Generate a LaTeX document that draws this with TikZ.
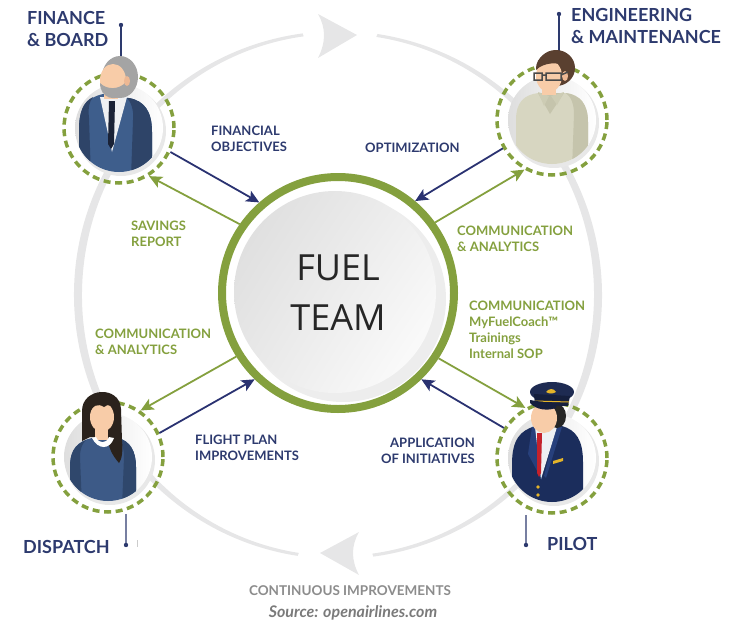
\documentclass[tikz,border=0pt]{standalone}
\usepackage{fontspec}
\setmainfont{Lato}
\newfontfamily\teamfont{Open Sans}
\usetikzlibrary{arrows.meta,shadings}

\definecolor{navy}{HTML}{2D3A6E}
\definecolor{arrownavy}{HTML}{2A3271}
\definecolor{leaf}{HTML}{84A03E}
\definecolor{ringgray}{HTML}{E6E6E7}
\definecolor{skin}{HTML}{F8CCA8}
\definecolor{skinshade}{HTML}{EDB894}
\definecolor{suit}{HTML}{3E5E8C}
\definecolor{suitdark}{HTML}{2E4468}
\definecolor{shirt}{HTML}{EEF0F3}
\definecolor{tie}{HTML}{1A2236}
\definecolor{hairgray}{HTML}{A4A4A4}
\definecolor{sweater}{HTML}{D7D6C1}
\definecolor{sweaterdark}{HTML}{C5C4AC}
\definecolor{collar}{HTML}{CDCCB4}
\definecolor{brownhair}{HTML}{5A4030}
\definecolor{glassframe}{HTML}{4A4A4A}
\definecolor{darkhair}{HTML}{2A221C}
\definecolor{blouse}{HTML}{3D5A87}
\definecolor{blousedark}{HTML}{2F476C}
\definecolor{pilotcoat}{HTML}{1B2D5C}
\definecolor{lapel}{HTML}{27407C}
\definecolor{capnavy}{HTML}{1E2B52}
\definecolor{capband}{HTML}{151F3D}
\definecolor{gold}{HTML}{E4B429}
\definecolor{tiered}{HTML}{C4212B}

\tikzstyle{member}=[circle,draw=leaf,line width=3.5pt,dash pattern=on 7pt off 4.6pt,minimum size=110pt,inner sep=0pt]
\tikzstyle{hub}=[circle,draw=leaf,line width=8pt,minimum size=232pt,inner sep=0pt,align=center,text=black!85,font=\teamfont\fontsize{36}{50}\selectfont]
\tikzstyle{role}=[inner sep=0pt,align=left,text=navy,font=\fontsize{18}{22}\selectfont\bfseries]
\tikzstyle{flow}=[inner sep=0pt,align=left,font=\fontsize{13}{16}\selectfont\bfseries]
\tikzstyle{tonavy}=[draw=arrownavy,line width=1.8pt,-{Stealth[length=13pt,width=12pt,inset=3pt]}]
\tikzstyle{toleaf}=[draw=leaf,line width=1.8pt,-{Stealth[length=13pt,width=12pt,inset=3pt]}]

\begin{document}
\begin{tikzpicture}[x=1pt,y=-1pt]
  \useasboundingbox (0,0) rectangle (747,621);

  % continuous improvement loop
  \coordinate (ring) at (338,295);
  \fill[ringgray] (ring) ++(97.7:264pt) arc[start angle=97.7,end angle=261.2,radius=264pt]
    -- ([shift={(261.2:256pt and 261pt)}]ring) arc[start angle=261.2,end angle=97.7,x radius=256pt,y radius=261pt] -- cycle;
  \fill[ringgray] (ring) ++(277.7:264pt) arc[start angle=277.7,end angle=441.4,radius=264pt]
    -- ([shift={(441.4:256pt and 261pt)}]ring) arc[start angle=441.4,end angle=277.7,x radius=256pt,y radius=261pt] -- cycle;
  \fill[ringgray] (357,35) -- (318,14) .. controls (326,28) and (326,42) .. (318,58) -- cycle;
  \fill[ringgray] (320,553) -- (359,532) .. controls (351,546) and (351,560) .. (359,575) -- cycle;

  % fuel team disc
  \fill[black!7] (343,299) circle (103pt);
  \shade[upper left=black!14,upper right=black!6,lower left=black!9,lower right=white] (335,292) circle (101pt);
  \node (fuel) [hub] at (338,293) {FUEL\\TEAM};

  \node (finance) [member] at (119,128) {};
  \node (engineering) [member] at (552,120) {};
  \node (dispatch) [member] at (108,457) {};
  \node (pilot) [member] at (552,458) {};

  \foreach \p in {finance,engineering,dispatch,pilot} {
    \fill[black!9] ([shift={(2,3)}]\p.center) circle (45pt);
    \shade[left color=black!13,right color=white] (\p.center) circle (44pt);
  }

  % leader lines to the titles
  \coordinate (finance tip) at (121,25);
  \coordinate (engineering tip) at (559,14);
  \coordinate (dispatch tip) at (126,545);
  \coordinate (pilot tip) at (526,545);
  \draw[navy,line width=1.2pt] (finance tip) -- (finance tip |- finance.north);
  \draw[navy,line width=1.2pt] (engineering tip) -- (engineering tip |- engineering.north);
  \draw[navy!65,line width=1.2pt] (dispatch tip |- dispatch.south) -- (dispatch tip);
  \draw[navy!65,line width=1.2pt] (pilot tip |- pilot.south) -- (pilot tip);
  \foreach \t in {finance tip,engineering tip,dispatch tip,pilot tip}
    \fill[navy] (\t) circle (2.2pt);
  \draw[black!20,line width=0.8pt] (137,540) -- (137,547);

  % finance & board
  \begin{scope}[shift={(finance.center)}]
    \begin{scope}
      \clip (0,0) circle (44pt);
      \fill[suit] (-40,50) -- (-40,2) .. controls (-40,-20) and (-33,-30) .. (-16,-34) -- (10,-30) .. controls (26,-27) and (33,-16) .. (33,4) -- (33,50) -- cycle;
      \fill[suitdark] (12,50) -- (14,-8) .. controls (15,-18) and (12,-26) .. (8,-30) -- (10,-30) .. controls (26,-27) and (33,-16) .. (33,4) -- (33,50) -- cycle;
      \fill[suitdark] (-28,50) -- (-30,-10) .. controls (-31,-20) and (-30,-26) .. (-26,-31) .. controls (-36,-26) and (-40,-16) .. (-40,2) -- (-40,50) -- cycle;
      \fill[shirt] (-19,-31) -- (8,-31) -- (-7,24) -- cycle;
      \fill[tie] (-10,-27) -- (-4,-27) -- (-5,16) -- (-8,21) -- (-11,16) -- cycle;
    \end{scope}
    \fill[skin] (-15,-42) rectangle (-1,-29);
    \fill[hairgray] (1,-51) ellipse (18pt and 21pt);
    \fill[skin] (-6,-48) ellipse (13pt and 16pt);
    \fill[hairgray] (-19,-45) .. controls (-19,-30) and (-4,-25) .. (7,-35) -- (7,-46) .. controls (0,-38) and (-12,-38) .. (-19,-45) -- cycle;
    \fill[skinshade] (8,-47) ellipse (3pt and 5pt);
  \end{scope}

  % engineering & maintenance
  \begin{scope}[shift={(engineering.center)}]
    \begin{scope}
      \clip (0,0) circle (44pt);
      \fill[sweater] (-36,50) -- (-36,0) .. controls (-36,-18) and (-28,-25) .. (-14,-27) -- (14,-27) .. controls (28,-25) and (36,-16) .. (36,2) -- (36,50) -- cycle;
      \fill[sweaterdark] (20,50) -- (22,-6) .. controls (22,-16) and (19,-23) .. (14,-27) .. controls (28,-25) and (36,-16) .. (36,2) -- (36,50) -- cycle;
      \fill[sweaterdark] (-14,-27) -- (-2,-6) -- (12,-27) -- cycle;
      \fill[collar] (-14,-28) -- (-3,-24) -- (-8,-14) -- cycle;
      \fill[collar] (12,-28) -- (-1,-24) -- (5,-15) -- cycle;
    \end{scope}
    \fill[skin] (-10,-38) rectangle (4,-25);
    \fill[brownhair] (4,-52) ellipse (19pt and 18pt);
    \fill[skin] (-3,-44) ellipse (13pt and 16pt);
    \fill[brownhair] (-16,-50) .. controls (-17,-64) and (-2,-72) .. (12,-66) -- (14,-54) .. controls (6,-58) and (-8,-58) .. (-16,-50) -- cycle;
    \fill[skinshade] (13,-44) ellipse (3pt and 5pt);
    \draw[glassframe,line width=1.5pt] (-18,-47) rectangle (-10,-40) (-6,-47) rectangle (9,-40)
      (-10,-45) -- (-6,-45) (9,-45) -- (16,-48);
  \end{scope}

  % dispatch
  \begin{scope}[shift={(dispatch.center)}]
    \begin{scope}
      \clip (0,0) circle (44pt);
      \fill[blouse] (-38,50) -- (-38,10) .. controls (-38,-8) and (-30,-16) .. (-16,-19) -- (10,-19) .. controls (22,-16) and (28,-6) .. (28,10) -- (28,50) -- cycle;
      \fill[blousedark] (14,50) -- (16,0) .. controls (16,-8) and (14,-15) .. (10,-19) .. controls (22,-16) and (28,-6) .. (28,10) -- (28,50) -- cycle;
      \fill[blousedark] (-26,50) -- (-28,0) .. controls (-28,-8) and (-26,-13) .. (-22,-17) .. controls (-34,-12) and (-38,-4) .. (-38,10) -- (-38,50) -- cycle;
    \end{scope}
    \fill[darkhair] (-26,-16) -- (-26,-46) .. controls (-26,-70) and (12,-72) .. (13,-48) -- (14,-16) .. controls (15,-6) and (14,2) .. (11,6) .. controls (4,-2) and (0,-10) .. (0,-20) -- (-18,-20) -- cycle;
    \fill[skin] (-13,-30) rectangle (0,-17);
    \fill[white] (-16,-19) .. controls (-10,-7) and (2,-7) .. (6,-19) -- (1,-20) .. controls (-2,-13) and (-9,-13) .. (-12,-20) -- cycle;
    \fill[skin] (-6,-40) ellipse (12pt and 15pt);
    \fill[darkhair] (-19,-42) .. controls (-20,-60) and (-6,-62) .. (-4,-56) .. controls (0,-62) and (10,-60) .. (8,-42)
      .. controls (6,-52) and (0,-54) .. (-4,-50) .. controls (-10,-54) and (-16,-52) .. (-19,-42) -- cycle;
  \end{scope}

  % pilot
  \begin{scope}[shift={(pilot.center)}]
    \begin{scope}
      \clip (0,0) circle (44pt);
      \fill[pilotcoat] (-40,50) -- (-40,6) .. controls (-40,-18) and (-32,-28) .. (-16,-32) -- (10,-32) .. controls (24,-28) and (31,-18) .. (31,4) -- (31,50) -- cycle;
      \fill[lapel] (-20,-31) -- (-16,-32) -- (-10,22) -- (-24,-4) -- cycle;
      \fill[lapel] (4,-31) -- (10,-31) -- (-6,20) -- (-8,18) -- cycle;
      \fill[shirt] (-17,-31) -- (5,-31) -- (-11,21) -- cycle;
      \fill[tiered] (-15,-25) -- (-10,-25) -- (-11,15) -- (-13,19) -- (-15,15) -- cycle;
      \fill[gold] (-14,29) circle (1.8pt) (-14,37) circle (1.8pt);
      \fill[gold] (1,3) -- (11,0) -- (11,3) -- (1,6) -- cycle;
    \end{scope}
    \fill[black!85] (5,-42) ellipse (9pt and 12pt);
    \fill[skin] (-16,-42) rectangle (-2,-29);
    \fill[skin] (-8,-40) ellipse (13pt and 15pt);
    \fill[capnavy] (0,-66) ellipse (22pt and 10pt);
    \fill[capband] (-18,-64) -- (18,-62) -- (16,-52) -- (-17,-53) -- cycle;
    \draw[gold,line width=1pt] (-17,-57) -- (17,-56);
    \fill[capband] (-22,-55) .. controls (-16,-48) and (-4,-47) .. (4,-50) -- (4,-54) -- (-22,-58) -- cycle;
    \fill[gold] (-6,-66) .. controls (-3,-70) and (2,-70) .. (4,-66) .. controls (1,-64) and (-3,-64) .. (-6,-66) -- cycle;
  \end{scope}

  % exchanges with the fuel team
  \path
  (finance.-25) edge[tonavy] (fuel.131)
  (fuel.145) edge[toleaf] (finance.-58)
  (engineering.210) edge[tonavy] (fuel.50)
  (fuel.36) edge[toleaf] (engineering.241)
  (fuel.212) edge[toleaf] (dispatch.55)
  (dispatch.25) edge[tonavy] (fuel.226)
  (fuel.-33) edge[toleaf] (pilot.118)
  (pilot.148) edge[tonavy] (fuel.-46);

  % titles
  \node (finance title) [role,anchor=north west] at (27,11) {FINANCE\\\& BOARD};
  \node (engineering title) [role,anchor=north west] at (571,8) {ENGINEERING\\\& MAINTENANCE};
  \node (dispatch title) [role,anchor=north west] at (23,540) {DISPATCH};
  \node (pilot title) [role,anchor=north west] at (547,537) {PILOT};

  % flow labels
  \node (objectives) [flow,text=navy,anchor=north west] at (211,126) {FINANCIAL\\OBJECTIVES};
  \node (optimization) [flow,text=navy,anchor=north west] at (365,143) {OPTIMIZATION};
  \node (savings) [flow,text=leaf,anchor=north west] at (131,221) {SAVINGS\\REPORT};
  \node (comm left) [flow,text=leaf,anchor=north west] at (95,329) {COMMUNICATION\\\& ANALYTICS};
  \node (comm right) [flow,text=leaf,anchor=north west] at (457,226) {COMMUNICATION\\\& ANALYTICS};
  \node (coaching) [flow,text=leaf,anchor=north west] at (469,301) {COMMUNICATION\\MyFuelCoach™\\Trainings\\Internal SOP};
  \node (flight plan) [flow,text=navy,anchor=north west] at (195,435) {FLIGHT PLAN\\IMPROVEMENTS};
  \node (initiatives) [flow,text=navy,anchor=north east,align=right] at (475,438) {APPLICATION\\OF INITIATIVES};

  \node (continuous) [inner sep=0pt,anchor=north,text=black!45,font=\fontsize{13.5}{16}\selectfont\bfseries] at (350,585) {CONTINUOUS IMPROVEMENTS};
  \node (source) [inner sep=0pt,anchor=base,text=black!52,font=\fontsize{16}{18}\selectfont\bfseries\itshape] at (353,617) {Source: openairlines.com};
\end{tikzpicture}
\end{document}
